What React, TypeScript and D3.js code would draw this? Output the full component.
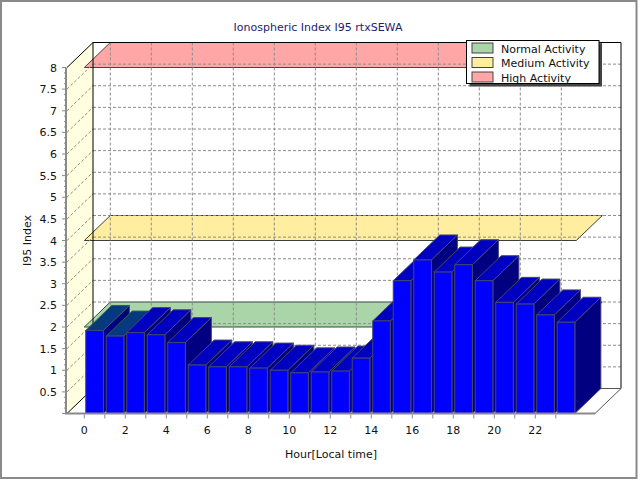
import * as d3 from 'd3';
import { useRef, useEffect } from 'react';

// hourly I95 values
const hours = [0, 1, 2, 3, 4, 5, 6, 7, 8, 9, 10, 11, 12, 13, 14, 15, 16, 17, 18, 19, 20, 21, 22, 23];
const i95 = [1.92, 1.79, 1.87, 1.82, 1.64, 1.12, 1.08, 1.08, 1.05, 1.0, 0.94, 0.96, 0.98, 1.28,
    2.14, 3.07, 3.55, 3.27, 3.44, 3.07, 2.57, 2.53, 2.28, 2.11];
const hourTicks = [0, 2, 4, 6, 8, 10, 12, 14, 16, 18, 20, 22];
const indexTicks = [0.5, 1, 1.5, 2, 2.5, 3, 3.5, 4, 4.5, 5, 5.5, 6, 6.5, 7, 7.5, 8];
const bandNames = ['Normal Activity', 'Medium Activity', 'High Activity'];
const bandLevels = [2, 4, 8];
// bars whose tops show through the normal-activity band
const tintedBars = [0, 1];

const bandFill = ['#a9d5a9', '#ffee9f', '#ffa6a6'];
const bandStroke = ['#2f4f3f', '#39403a', '#5a3a3a'];

const App = () => {
    const ref = useRef<SVGSVGElement>(null);

    useEffect(() => {
        if (!ref.current) return;
        document.body.style.margin = '0';
        const svg = d3.select(ref.current);
        svg.selectAll('*').remove();

        const DX = 26, DY = -25;
        const left = 67, right = 595, bottom = 413.5, top = 67.5;

        const x = d3.scaleLinear().domain([0, 24]).range([84.3, 576.3]);
        const y = d3.scaleLinear().domain([0, 8]).range([bottom, top]);

        const poly = (pts: number[][]) => 'M' + pts.map(p => p.join(',')).join('L') + 'Z';
        const back = (p: number[]) => [p[0] + DX, p[1] + DY];

        // outer frame
        svg.append('rect')
            .attr('x', 1).attr('y', 1).attr('width', 635.5).attr('height', 477)
            .attr('fill', '#fff').attr('stroke', '#8a8a8a').attr('stroke-width', 2);

        // walls
        svg.append('rect')
            .attr('x', left + DX).attr('y', top + DY)
            .attr('width', right - left).attr('height', bottom - top)
            .attr('fill', '#fff');
        svg.append('path')
            .attr('d', poly([[left, top], back([left, top]), back([left, bottom]), [left, bottom]]))
            .attr('fill', '#ffffe0');
        svg.append('path')
            .attr('d', poly([[left, bottom], [right, bottom], back([right, bottom]), back([left, bottom])]))
            .attr('fill', '#fff');

        // activity bands
        bandLevels.forEach((lvl, i) => {
            const a = [x(0), y(lvl)], b = [x(24), y(lvl)];
            svg.append('path')
                .attr('d', poly([a, b, back(b), back(a)]))
                .attr('fill', bandFill[i])
                .attr('stroke', bandStroke[i])
                .attr('stroke-width', 1);
        });

        // grid on back wall and left wall
        const grid = svg.append('g')
            .attr('stroke', '#8c8c8c').attr('stroke-width', 1).attr('stroke-dasharray', '3,2').attr('fill', 'none');
        indexTicks.filter(v => v < 8).forEach(v => {
            grid.append('line')
                .attr('x1', left + DX).attr('x2', right + DX)
                .attr('y1', y(v) + DY).attr('y2', y(v) + DY);
            grid.append('line')
                .attr('x1', left).attr('y1', y(v))
                .attr('x2', left + DX).attr('y2', y(v) + DY);
        });
        hourTicks.forEach(h => {
            grid.append('line')
                .attr('x1', x(h) + DX).attr('x2', x(h) + DX)
                .attr('y1', top + DY).attr('y2', bottom + DY);
        });

        // frame edges
        const edges = svg.append('g').attr('fill', 'none').attr('stroke-width', 1);
        edges.append('path')
            .attr('d', `M${left + DX},${bottom + DY}V${top + DY}H${right + DX}V${bottom + DY}`)
            .attr('stroke', '#000');
        edges.append('path')
            .attr('d', `M${left},${top}L${left + DX},${top + DY}M${left},${bottom}L${left + DX},${bottom + DY}`)
            .attr('stroke', '#000');
        edges.append('path')
            .attr('d', `M${left + DX},${bottom + DY}H${right + DX}L${right},${bottom}`)
            .attr('stroke', '#555');

        // bars, left to right so each front covers the previous side
        hours.forEach((h, i) => {
            const x0 = x(h + 0.07), x1 = x(h + 0.93);
            const yt = y(i95[i]), y0 = y(0);
            const tinted = tintedBars.includes(i);
            const g = svg.append('g').attr('stroke', '#45456e').attr('stroke-width', 1);
            g.append('path')
                .attr('d', poly([[x1, yt], back([x1, yt]), back([x1, y0]), [x1, y0]]))
                .attr('fill', '#000080');
            g.append('path')
                .attr('d', poly([[x0, yt], [x1, yt], back([x1, yt]), back([x0, yt])]))
                .attr('fill', tinted ? '#06397f' : '#0000c0')
                .attr('stroke', tinted ? '#2f5f4f' : '#45456e');
            g.append('rect')
                .attr('x', x0).attr('y', yt)
                .attr('width', x1 - x0).attr('height', y0 - yt)
                .attr('fill', '#0000ff');
        });

        // axes
        const axes = svg.append('g').attr('stroke', '#8a8a8a');
        axes.append('path')
            .attr('d', `M${left - 1},${top}V${bottom}H${right}`)
            .attr('fill', 'none').attr('stroke-width', 2);
        d3.range(0, 8.001, 0.125).forEach(v => {
            const major = Math.abs(v * 2 - Math.round(v * 2)) < 1e-6;
            axes.append('line')
                .attr('x1', major ? left - 5 : left - 3).attr('x2', left - 1)
                .attr('y1', y(v)).attr('y2', y(v));
        });
        hours.forEach(h => {
            axes.append('line')
                .attr('x1', x(h)).attr('x2', x(h))
                .attr('y1', bottom + 1).attr('y2', bottom + 5);
        });

        const font = "'DejaVu Sans', Verdana, sans-serif";
        const labels = svg.append('g')
            .attr('font-family', font).attr('font-size', 11).attr('fill', '#111');
        indexTicks.forEach(v => {
            labels.append('text')
                .attr('x', left - 10).attr('y', y(v) + 4)
                .attr('text-anchor', 'end')
                .text(String(v));
        });
        hourTicks.forEach(h => {
            labels.append('text')
                .attr('x', x(h)).attr('y', bottom + 20)
                .attr('text-anchor', 'middle')
                .text(String(h));
        });
        labels.append('text')
            .attr('x', (left + right) / 2).attr('y', 458)
            .attr('text-anchor', 'middle')
            .text('Hour[Local time]');
        labels.append('text')
            .attr('transform', `translate(31,${(top + bottom) / 2}) rotate(-90)`)
            .attr('text-anchor', 'middle')
            .text('I95 Index');

        svg.append('text')
            .attr('x', 318).attr('y', 31)
            .attr('text-anchor', 'middle')
            .attr('font-family', font).attr('font-size', 11)
            .attr('fill', '#1c1c70')
            .text('Ionospheric Index I95 rtxSEWA');

        // legend
        const lg = svg.append('g').attr('transform', 'translate(466.5,40.5)');
        lg.append('rect')
            .attr('x', 3).attr('y', 3).attr('width', 132.5).attr('height', 43)
            .attr('fill', '#444');
        lg.append('rect')
            .attr('width', 132.5).attr('height', 43)
            .attr('fill', '#fff').attr('stroke', '#000');
        bandNames.forEach((name, i) => {
            lg.append('rect')
                .attr('x', 5.5).attr('y', 2.5 + i * 14.5)
                .attr('width', 21).attr('height', 10)
                .attr('fill', bandFill[i]).attr('stroke', '#444');
            lg.append('text')
                .attr('x', 34.5).attr('y', 12 + i * 14.5)
                .attr('font-family', font).attr('font-size', 11).attr('fill', '#111')
                .text(name);
        });
    }, []);

    return (<svg ref={ref} width={640} height={480} style={{ display: 'block' }}></svg>);
};

export default App;
